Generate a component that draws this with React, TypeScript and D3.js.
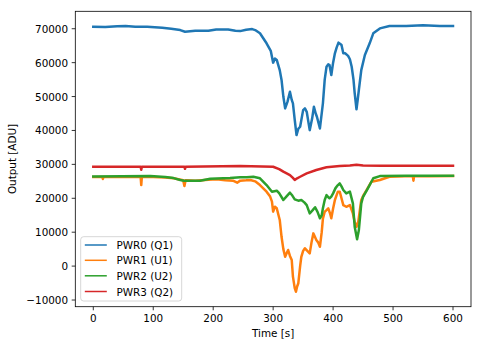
import React from "react";
import * as d3 from "d3";

const W = 482;
const H = 347;

const seriesNames = ["PWR0 (Q1)", "PWR1 (U1)", "PWR2 (U2)", "PWR3 (Q2)"];
const seriesColors = ["#1f77b4", "#ff7f0e", "#2ca02c", "#d62728"];

const xTicks = [0, 100, 200, 300, 400, 500, 600];
const yTicks = [-10000, 0, 10000, 20000, 30000, 40000, 50000, 60000, 70000];

const pwr0T = [0, 20, 40, 54, 70, 90, 115, 130, 145, 153, 170, 192, 205, 225, 237, 245, 255, 265, 270, 278, 289, 296, 300, 303, 306, 311, 314, 317, 320, 324, 328, 331, 333, 336, 339, 342, 345, 350, 353, 356, 361, 365, 368, 371, 373, 378, 383, 386, 389, 392, 394, 397, 400, 403, 406, 409, 412, 414, 417, 420, 425, 428, 431, 434, 436, 439, 441, 443, 447, 453, 461, 467, 478, 494, 522, 550, 578, 600];
const pwr0V = [70600, 70500, 70700, 70800, 70600, 70600, 70300, 70000, 69600, 69100, 69400, 69400, 69800, 69800, 69400, 69300, 69700, 69900, 69600, 68650, 65700, 63500, 60000, 61200, 60800, 57800, 54900, 50000, 46500, 48500, 51400, 49000, 48000, 43100, 38650, 40500, 41100, 46000, 46500, 45500, 40100, 43500, 47000, 45000, 44050, 40600, 48000, 55000, 58800, 59500, 59300, 56350, 60000, 62750, 64500, 65900, 65500, 65200, 62750, 62750, 62000, 61000, 58800, 55000, 51000, 46250, 49000, 52000, 57800, 62250, 65700, 68650, 70100, 70800, 70800, 71000, 70800, 70800];

const pwr1T = [0, 15, 16, 17, 79, 80, 81, 100, 120, 134, 150, 152, 154, 170, 192, 206, 220, 233, 240, 245, 255, 262, 270, 278, 289, 295, 298, 300, 303, 306, 311, 314, 317, 320, 323, 325, 328, 331, 333, 336, 338, 340, 342, 345, 347, 350, 353, 357, 361, 364, 367, 370, 372, 375, 378, 381, 383, 386, 389, 392, 395, 397, 400, 403, 406, 408, 411, 414, 417, 422, 428, 433, 436, 439, 442, 445, 447, 451, 456, 464, 478, 494, 520, 533, 534, 535, 560, 600];
const pwr1V = [26300, 26300, 25700, 26300, 26300, 23900, 26300, 26300, 26100, 25900, 25300, 23600, 25300, 25200, 25500, 25600, 25300, 25200, 24600, 25200, 25300, 25400, 25000, 23900, 21950, 20500, 19000, 16050, 17500, 17050, 13600, 8650, 5000, 2750, 4000, 4750, 3000, 1800, -3100, -6500, -7550, -6000, -5050, 0, 2750, 4500, 5250, 4500, 3750, 7000, 9650, 8500, 7700, 7000, 5700, 10000, 14000, 16050, 16500, 17050, 15500, 14100, 17000, 19500, 21000, 21950, 21950, 20000, 18000, 17500, 18000, 15550, 13000, 11600, 13100, 17000, 19500, 21000, 22450, 24900, 25400, 26350, 26500, 26500, 25200, 26500, 26500, 26600];

const pwr2T = [0, 95, 120, 134, 145, 151, 170, 178, 195, 228, 245, 256, 267, 278, 289, 298, 306, 310, 317, 322, 328, 332, 336, 342, 347, 352, 356, 361, 366, 370, 374, 378, 381, 383, 386, 389, 392, 394, 397, 400, 404, 408, 411, 414, 417, 422, 428, 433, 436, 440, 443, 447, 450, 458, 467, 478, 522, 600];
const pwr2V = [26400, 26550, 26300, 25950, 25400, 25200, 25200, 25200, 25750, 25950, 26200, 26200, 26350, 25900, 23900, 21950, 22250, 21500, 19500, 20500, 21650, 20800, 19700, 19300, 19500, 18800, 18000, 15550, 16500, 17350, 16000, 14100, 15000, 17050, 19500, 20950, 20300, 20000, 20500, 21450, 23000, 23900, 24400, 23500, 22450, 21450, 21950, 18500, 11600, 7900, 10650, 18500, 20450, 22950, 25900, 26550, 26650, 26650];

const pwr3T = [0, 79, 80, 81, 152, 153, 154, 245, 300, 310, 317, 328, 333, 336, 340, 345, 356, 372, 389, 411, 428, 439, 450, 480, 600];
const pwr3V = [29300, 29300, 28400, 29300, 29300, 28700, 29300, 29500, 29300, 28600, 27850, 26850, 26000, 25400, 25900, 26350, 27350, 28350, 29150, 29500, 29700, 29900, 29700, 29600, 29600];

const seriesT = [pwr0T, pwr1T, pwr2T, pwr3T];
const seriesV = [pwr0V, pwr1V, pwr2V, pwr3V];

const xDomain = [-30, 630];
const yDomain = [-11970, 75140];

const plot = { left: 75.3, right: 471, top: 11.3, bottom: 306.7 };

const FONT = "DejaVu Sans";
const FS = 10.4;

export default function App() {
  const x = d3.scaleLinear().domain(xDomain).range([plot.left, plot.right]);
  const y = d3.scaleLinear().domain(yDomain).range([plot.bottom, plot.top]);

  const lines = seriesT.map((ts, i) => {
    const pts: [number, number][] = ts.map((t, j) => [t, seriesV[i][j]]);
    const gen = d3
      .line<[number, number]>()
      .x((d) => x(d[0]))
      .y((d) => y(d[1]));
    return gen(pts) || "";
  });

  const legend = { x0: 80.7, y0: 236.7, x1: 181.7, y1: 301 };
  const rowY = [245, 260.3, 275.8, 291.5];

  return (
    <svg
      width={W}
      height={H}
      style={{ position: "fixed", left: 0, top: 0, background: "#fff" }}
      fontFamily={FONT}
    >
      <rect x={0} y={0} width={W} height={H} fill="#fff" />
      <defs>
        <clipPath id="plotclip">
          <rect x={plot.left} y={plot.top} width={plot.right - plot.left} height={plot.bottom - plot.top} />
        </clipPath>
      </defs>
      <g clipPath="url(#plotclip)">
        {lines.map((d, i) => (
          <path
            key={i}
            d={d}
            fill="none"
            stroke={seriesColors[i]}
            strokeWidth={2.5}
            strokeLinejoin="round"
            strokeLinecap="square"
          />
        ))}
      </g>
      {/* spines */}
      <rect
        x={plot.left}
        y={plot.top}
        width={plot.right - plot.left}
        height={plot.bottom - plot.top}
        fill="none"
        stroke="#000"
        strokeWidth={0.8}
      />
      {/* x ticks */}
      {xTicks.map((t) => (
        <g key={"x" + t}>
          <line x1={x(t)} x2={x(t)} y1={plot.bottom} y2={plot.bottom + 3.6} stroke="#000" strokeWidth={0.8} />
          <text x={x(t)} y={plot.bottom + 7.2} fontSize={FS} textAnchor="middle" dominantBaseline="hanging" fill="#000">
            {t}
          </text>
        </g>
      ))}
      {/* y ticks */}
      {yTicks.map((t) => (
        <g key={"y" + t}>
          <line x1={plot.left - 3.6} x2={plot.left} y1={y(t)} y2={y(t)} stroke="#000" strokeWidth={0.8} />
          <text x={plot.left - 7.2} y={y(t)} fontSize={FS} textAnchor="end" dominantBaseline="central" fill="#000">
            {t < 0 ? "\u2212" + Math.abs(t) : String(t)}
          </text>
        </g>
      ))}
      <text x={(plot.left + plot.right) / 2} y={333} fontSize={FS} textAnchor="middle" dominantBaseline="central" fill="#000">
        Time [s]
      </text>
      <text
        transform={`translate(11.7, ${(plot.top + plot.bottom) / 2}) rotate(-90)`}
        fontSize={FS}
        textAnchor="middle"
        dominantBaseline="central"
        fill="#000"
      >
        Output [ADU]
      </text>
      {/* legend */}
      <rect
        x={legend.x0}
        y={legend.y0}
        width={legend.x1 - legend.x0}
        height={legend.y1 - legend.y0}
        rx={2.9}
        fill="#fff"
        fillOpacity={0.8}
        stroke="#cccccc"
        strokeWidth={0.8}
      />
      {seriesNames.map((n, i) => (
        <g key={n}>
          <line x1={84.8} x2={106.8} y1={rowY[i]} y2={rowY[i]} stroke={seriesColors[i]} strokeWidth={1.5} />
          <text x={116.5} y={rowY[i]} fontSize={FS} dominantBaseline="central" fill="#000">
            {n}
          </text>
        </g>
      ))}
    </svg>
  );
}
